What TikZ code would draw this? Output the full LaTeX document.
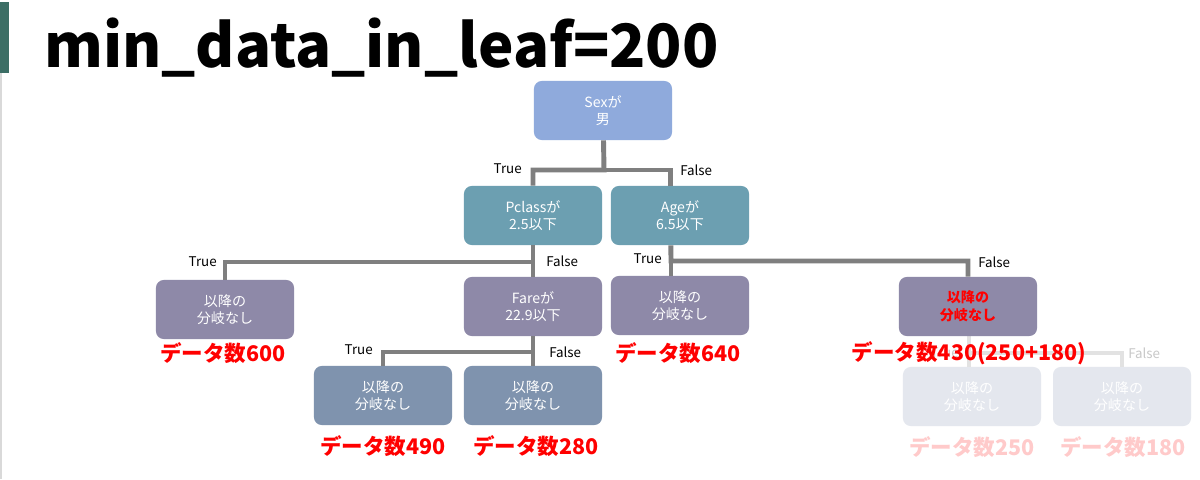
\documentclass[tikz,border=0pt]{standalone}
\usepackage{fontspec}
\setmainfont{Noto Sans CJK JP}
\usetikzlibrary{positioning}

\definecolor{sexblue}{HTML}{8FAADC}
\definecolor{splitteal}{HTML}{6C9FB1}
\definecolor{leafpurple}{HTML}{8E89A8}
\definecolor{leafslate}{HTML}{7F93AE}
\definecolor{fadebox}{HTML}{E4E7EE}
\definecolor{fadeline}{HTML}{E2E2E2}
\definecolor{fadetext}{HTML}{C8C8C8}
\definecolor{linegray}{HTML}{7F7F7F}
\definecolor{fadered}{HTML}{FFCACA}
\definecolor{barteal}{HTML}{3C6E65}

\begin{document}
\begin{tikzpicture}[x=0.025cm, y=-0.025cm,
  box/.style={rectangle, rounded corners=5.5pt, minimum width=3.45cm, minimum height=1.475cm, align=center, text=white, font=\fontsize{10}{12.5}\selectfont, inner sep=0pt},
  conn/.style={draw=linegray, line width=3.5pt},
  tf/.style={font=\fontsize{9.5}{11}\selectfont, inner sep=0pt},
  cnt/.style={font=\fontsize{15.3}{18}\selectfont\bfseries, text=red, inner sep=0pt}]
    \useasboundingbox[fill=white] (0,0) rectangle (1200,479);

    % Slide decoration
    \fill[barteal] (0,2) rectangle (9,73);
    \fill[black!15] (0,73) rectangle (2,479);
    \node[anchor=base west, inner sep=0pt, font=\fontsize{42.5}{50}\selectfont\bfseries] (title) at (44,67) {min\_data\_in\_leaf=200};

    % Faded split (not done)
    \node[box, fill=fadebox] (leafF) at (972,396.5) {以降の\\分岐なし};
    \node[box, fill=fadebox] (leafG) at (1122,396.5) {以降の\\分岐なし};
    \coordinate (j5) at (969,353);
    \draw[conn, draw=fadeline] (969,336) -- (j5) -| (leafG);
    \draw[conn, draw=fadeline] (j5) -- (leafF.north -| j5);
    \node[tf, anchor=east, text=fadetext] (t5) at (959,353) {True};
    \node[tf, anchor=west, text=fadetext] (f5) at (1128,353) {False};

    % Tree nodes
    \node[box, fill=sexblue]    (sex)    at (603,110.5) {Sexが\\男};
    \node[box, fill=splitteal]  (pclass) at (533,215.5) {Pclassが\\2.5以下};
    \node[box, fill=splitteal]  (age)    at (680,215.5) {Ageが\\6.5以下};
    \node[box, fill=leafpurple] (leafA)  at (225,309.5) {以降の\\分岐なし};
    \node[box, fill=leafpurple] (fare)   at (533,306.5) {Fareが\\22.9以下};
    \node[box, fill=leafpurple] (leafB)  at (680,305.5) {以降の\\分岐なし};
    \node[box, fill=leafpurple, text=red, font=\fontsize{10}{12.5}\selectfont\bfseries] (leafC) at (968,306.5) {以降の\\分岐なし};
    \node[box, fill=leafslate]  (leafD)  at (383,395.5) {以降の\\分岐なし};
    \node[box, fill=leafslate]  (leafE)  at (533,395.5) {以降の\\分岐なし};

    % Connectors
    \coordinate (j1) at (604,170);
    \coordinate (j2) at (533,262);
    \coordinate (j3) at (671,261);
    \coordinate (j4) at (533,352);
    \draw[conn] (sex) -- (j1) -| (pclass);
    \draw[conn] (j1) -| ([xshift=-6.5pt]age.north);
    \draw[conn] (pclass) -- (j2) -| (leafA);
    \draw[conn] (j2) -- (fare);
    \draw[conn] ([xshift=-6.5pt]age.south) -- (j3) -| (leafC);
    \draw[conn] (j3) -- (leafB.north -| j3);
    \draw[conn] (fare) -- (j4) -| (leafD);
    \draw[conn] (j4) -- (leafE);

    % True / False labels
    \node[tf, anchor=east] (t1) at (522,169) {True};
    \node[tf, anchor=west] (f1) at (680,170) {False};
    \node[tf, anchor=east] (t2) at (217,262) {True};
    \node[tf, anchor=west] (f2) at (546,261) {False};
    \node[tf, anchor=east] (t3) at (662,259) {True};
    \node[tf, anchor=west] (f3) at (978,262) {False};
    \node[tf, anchor=east] (t4) at (373,350) {True};
    \node[tf, anchor=west] (f4) at (549,352) {False};

    % Data counts
    \node[cnt] (nA) at (223,353) {データ数600};
    \node[cnt] (nB) at (678,353) {データ数640};
    \node[cnt] (nC) at (969,353) {データ数430(250+180)};
    \node[cnt] (nD) at (383,446) {データ数490};
    \node[cnt] (nE) at (536,446) {データ数280};
    \node[cnt, text=fadered] (nF) at (972,447) {データ数250};
    \node[cnt, text=fadered] (nG) at (1123,447) {データ数180};
\end{tikzpicture}
\end{document}
